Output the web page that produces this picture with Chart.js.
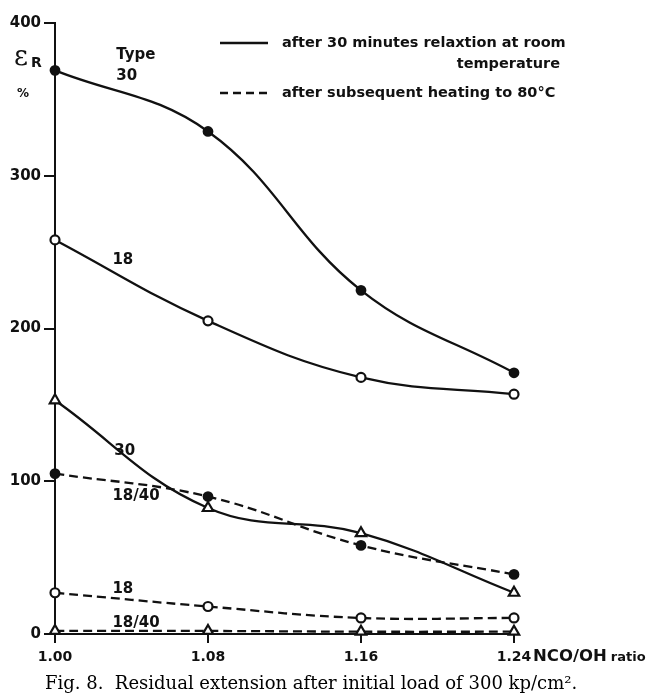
<!DOCTYPE html>
<html>
<head>
<meta charset="utf-8">
<script src="https://cdn.jsdelivr.net/npm/chart.js@4"></script>
<style>
  body { margin: 0; background: #fff; }
  #wrap { position: relative; width: 659px; height: 698px; }
  #caption {
    position: absolute; left: 45px; top: 672px; white-space: nowrap;
    font: 18px "DejaVu Serif", serif; color: #000;
  }
</style>
</head>
<body>
<div id="wrap">
  <canvas id="fig8" width="659" height="698"></canvas>
  <div id="caption">Fig. 8.&nbsp; Residual extension after initial load of 300 kp/cm².</div>
</div>
<script>
// NCO/OH ratio on x, residual extension (%) on y
const ratios = [1.00, 1.08, 1.16, 1.24];
const yTicks = [0, 100, 200, 300, 400];

// after 30 min relaxation at room temperature (solid)
const room30 = [369, 329, 225, 171];
const room18 = [258, 205, 168, 157];
const room1840 = [153, 82.5, 66, 27];

// after subsequent heating to 80 °C (dashed)
const heated30 = [105, 90, 58, 39];
const heated18 = [27, 18, 10.5, 10.5];
const heated1840 = [2, 2, 1.5, 1.5];

const ink = '#111';
const sans = '"DejaVu Sans", sans-serif';

function pts(vals) {
  return vals.map((v, i) => ({ x: ratios[i], y: v }));
}

function series(vals, marker, dashed) {
  const ds = {
    data: pts(vals),
    borderColor: ink,
    borderWidth: 2.3,
    borderDash: dashed ? [9, 5] : [],
    tension: 0.4,
    fill: false,
    clip: false,
    pointBorderColor: ink,
    pointBorderWidth: 2.2
  };
  if (marker === 'dot') {
    ds.pointStyle = 'circle';
    ds.pointRadius = 4.3;
    ds.pointBackgroundColor = ink;
  } else if (marker === 'ring') {
    ds.pointStyle = 'circle';
    ds.pointRadius = 4.5;
    ds.pointBackgroundColor = '#fff';
  } else {
    ds.pointStyle = 'triangle';
    ds.pointRadius = 6;
    ds.pointBackgroundColor = '#fff';
  }
  return ds;
}

// legend, curve labels and axis title drawn onto the canvas
const annotate = {
  id: 'annotate',
  afterDraw(chart) {
    const c = chart.ctx;
    const xs = chart.scales.x, ys = chart.scales.y;
    c.save();
    c.fillStyle = ink;
    c.strokeStyle = ink;
    c.textBaseline = 'middle';

    // legend
    c.lineWidth = 2.3;
    c.beginPath(); c.moveTo(220, 43); c.lineTo(268, 43); c.stroke();
    c.setLineDash([8, 5]);
    c.beginPath(); c.moveTo(220, 93); c.lineTo(268, 93); c.stroke();
    c.setLineDash([]);
    c.font = 'bold 14.5px ' + sans;
    c.textAlign = 'left';
    c.fillText('after 30 minutes relaxtion at room', 282, 43);
    c.fillText('after subsequent heating to 80°C', 282, 93);
    c.textAlign = 'right';
    c.fillText('temperature', 560, 64);

    // y axis symbol
    c.textAlign = 'left';
    c.font = '27px "DejaVu Serif", serif';
    c.fillText('ε', 14, 58);
    c.font = 'bold 14px ' + sans;
    c.fillText('R', 31, 63);
    c.font = 'bold 12px ' + sans;
    c.fillText('%', 17, 94);

    // curve labels
    const labels = [
      ['Type', 1.032, 379],
      ['30', 1.032, 365],
      ['18', 1.030, 245],
      ['30', 1.031, 120],
      ['18/40', 1.030, 90],
      ['18', 1.030, 29.5],
      ['18/40', 1.030, 7]
    ];
    c.font = 'bold 15px ' + sans;
    labels.forEach(([t, x, y]) => {
      c.fillText(t, xs.getPixelForValue(x), ys.getPixelForValue(y));
    });

    // x axis title inline after last tick label
    const yb = chart.chartArea.bottom + 23;
    c.font = 'bold 16.5px ' + sans;
    c.fillText('NCO/OH', 533, yb);
    const w = c.measureText('NCO/OH').width;
    c.font = 'bold 13px ' + sans;
    c.fillText('ratio', 533 + w + 4, yb + 1);
    c.restore();
  }
};

new Chart(document.getElementById('fig8'), {
  type: 'line',
  data: {
    datasets: [
      series(room30, 'dot', false),
      series(room18, 'ring', false),
      series(room1840, 'tri', false),
      series(heated30, 'dot', true),
      series(heated18, 'ring', true),
      series(heated1840, 'tri', true)
    ]
  },
  options: {
    responsive: false,
    animation: false,
    layout: { padding: { top: 23, right: 145, left: 0, bottom: 0 } },
    plugins: { legend: { display: false }, tooltip: { enabled: false } },
    scales: {
      x: {
        type: 'linear',
        min: 1.00,
        max: 1.24,
        afterBuildTicks: (s) => { s.ticks = ratios.map(v => ({ value: v })); },
        afterFit: (s) => { s.height = 64; },
        border: { color: ink, width: 2 },
        grid: { drawOnChartArea: false, drawTicks: true, tickLength: 9, color: ink, lineWidth: 2 },
        ticks: {
          color: ink,
          padding: 6,
          maxRotation: 0,
          font: { family: sans, size: 14, weight: 'bold' },
          callback: (v) => Number(v).toFixed(2)
        }
      },
      y: {
        type: 'linear',
        min: 0,
        max: 400,
        afterBuildTicks: (s) => { s.ticks = yTicks.map(v => ({ value: v })); },
        afterFit: (s) => { s.width = 55; },
        border: { color: ink, width: 2 },
        grid: { drawOnChartArea: false, drawTicks: true, tickLength: 11, color: ink, lineWidth: 2 },
        ticks: {
          color: ink,
          padding: 3,
          font: { family: sans, size: 15, weight: 'bold' }
        }
      }
    }
  },
  plugins: [annotate]
});
</script>
</body>
</html>
